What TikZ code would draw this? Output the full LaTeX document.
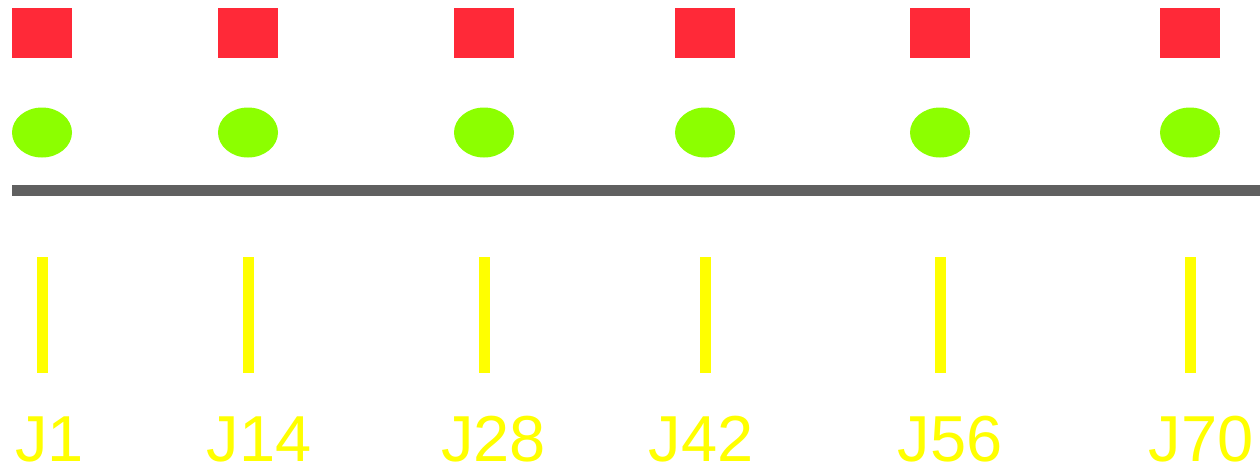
\documentclass[tikz,border=0pt]{standalone}
\usepackage{fontspec}
\setmainfont{Liberation Sans}
\usetikzlibrary{shapes.geometric}
\definecolor{sqred}{RGB}{255,41,56}
\definecolor{dotgreen}{RGB}{140,255,0}
\definecolor{barygray}{RGB}{96,96,96}
\definecolor{tickyellow}{RGB}{255,255,0}
\begin{document}
\begin{tikzpicture}[x=1pt,y=-1pt,
  sqbox/.style={rectangle,fill=sqred,draw=none,minimum width=60pt,minimum height=50pt,inner sep=0pt},
  dotell/.style={ellipse,fill=dotgreen,draw=none,minimum width=60pt,minimum height=50pt,inner sep=0pt},
  ticklin/.style={draw=tickyellow,line width=11pt},
  baseline/.style={draw=barygray,line width=11pt},
  jlabel/.style={text=tickyellow,font=\fontsize{65pt}{70pt}\selectfont,inner sep=0pt,anchor=base west}]
\useasboundingbox (0,0) rectangle (1260,472);
\foreach \n/\cx/\lx in {1/42/15, 14/248/206.5, 28/484/441, 42/705/648.3, 56/940/897.6, 70/1190/1148.3}{
  \node[sqbox] (sq\n) at (\cx,33) {};
  \node[dotell] (dot\n) at (\cx,132.5) {};
  \coordinate (tt\n) at (\cx,257);
  \coordinate (tb\n) at (\cx,373);
  \draw[ticklin] (tt\n) -- (tb\n);
  \node[jlabel] (lab\n) at (\lx,461.5) {J\n};
}
\coordinate (barL) at (12,190.5);
\coordinate (barR) at (1260,190.5);
\draw[baseline] (barL) -- (barR);
\end{tikzpicture}
\end{document}
